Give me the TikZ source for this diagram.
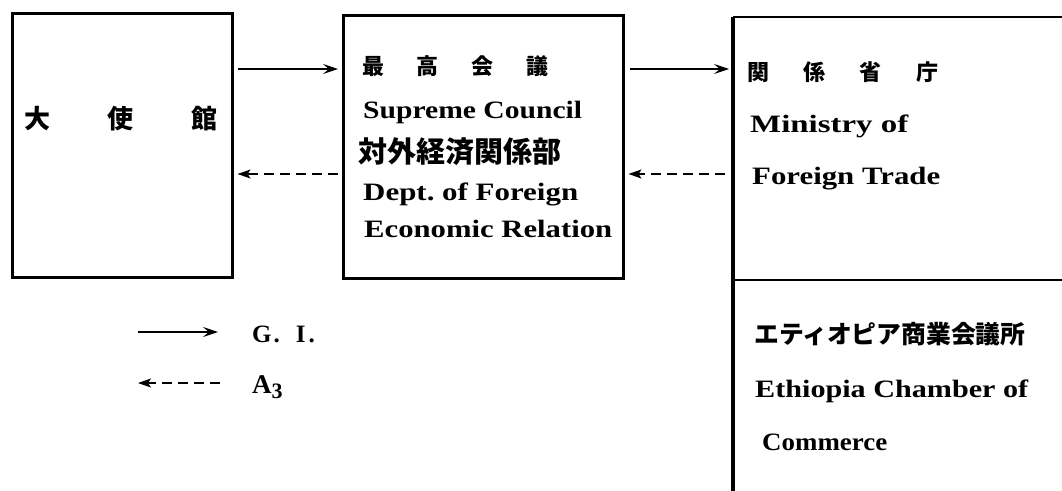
\documentclass[tikz,border=0pt]{standalone}
\usepackage{fontspec}
\usepackage{graphicx}
\setmainfont{Liberation Serif}
\newfontfamily\cjk{Noto Sans CJK JP}
\usetikzlibrary{arrows.meta}
\newcommand\fitw[2]{\resizebox{#1}{\height}{#2}}
\begin{document}
\begin{tikzpicture}[x=1pt,y=-1pt,
  box/.style={draw, line width=3pt, inner sep=0pt},
  en/.style={inner sep=0pt, anchor=base west, font=\bfseries\fontsize{25}{25}\selectfont},
  jp/.style={inner sep=0pt, anchor=west, font=\cjk\bfseries\fontsize{22}{22}\selectfont},
  fwd/.style={line width=1.5pt, -{Stealth[length=15pt,width=10pt,inset=6pt]}},
  bwd/.style={line width=1.5pt, dash pattern=on 10pt off 6pt, -{Stealth[length=13pt,width=9pt,inset=3pt]}},
]
\useasboundingbox (0,0) rectangle (1062,490);
\fill[white] (0,0) rectangle (1062,490);

% boxes
\node[box, minimum width=220pt, minimum height=264pt] (emb) at (122,145) {};
\node[box, minimum width=280pt, minimum height=263pt] (mid) at (483,146.5) {};
\coordinate (rtl) at (733,17);
\coordinate (rbl) at (733,492);
\coordinate (rtr) at (1064,17);
\coordinate (rdl) at (733,280);
\coordinate (rdr) at (1064,280);
\draw[line width=2pt] (rtl) -- (rtr);
\draw[line width=3.5pt] (rbl) -- (rtl);
\draw[line width=1.5pt] (rdl) -- (rdr);

% connectors
\coordinate (r1) at (0,69);
\coordinate (r2) at (0,174);
\draw[fwd, shorten <=4.5pt, shorten >=3.5pt] (emb.east |- r1) -- (mid.west |- r1);
\draw[fwd, shorten <=5pt, shorten >=4pt] (mid.east |- r1) -- (rtl |- r1);
\draw[bwd, shorten <=4pt, shorten >=4pt] (mid.west |- r2) -- (emb.east |- r2);
\draw[bwd, shorten <=8pt, shorten >=4pt] (rtl |- r2) -- (mid.east |- r2);

% left box text
\node[jp, font=\cjk\bfseries\fontsize{26}{26}\selectfont] (embt) at (24,119) {大\hspace{57.5pt}使\hspace{57.5pt}館};

% middle box text
\node[jp] (mt1) at (362,66) {最\hspace{32.7pt}高\hspace{32.7pt}会\hspace{32.7pt}議};
\node[en] (mt2) at (363,118) {\fitw{219pt}{Supreme Council}};
\node[jp, font=\cjk\bfseries\fontsize{29}{29}\selectfont] (mt3) at (358,152) {対外経済関係部};
\node[en] (mt4) at (363,200) {\fitw{215pt}{Dept.\ of Foreign}};
\node[en] (mt5) at (364,237) {\fitw{248pt}{Economic Relation}};

% right box text
\node[jp] (rt1) at (747,72) {関\hspace{34.3pt}係\hspace{34.3pt}省\hspace{34.3pt}庁};
\node[en] (rt2) at (750,132) {\fitw{158pt}{Ministry of}};
\node[en] (rt3) at (752,184) {\fitw{188pt}{Foreign Trade}};
\node[jp, font=\cjk\bfseries\fontsize{24.8}{24.8}\selectfont] (rt4) at (754,334) {エティオピア商業会議所};
\node[en] (rt5) at (755,397) {\fitw{273pt}{Ethiopia Chamber of}};
\node[en] (rt6) at (762,450) {\fitw{125pt}{Commerce}};

% legend
\coordinate (l1s) at (138,332);
\coordinate (l1e) at (218,332);
\coordinate (l2s) at (220,383);
\coordinate (l2e) at (138,383);
\draw[fwd] (l1s) -- (l1e);
\draw[bwd] (l2s) -- (l2e);
\node[en] (gi) at (252,342) {G\hspace{2pt}.\hspace{16pt}I\hspace{3pt}.};
\node[en, font=\bfseries\fontsize{27}{27}\selectfont] (a3) at (252,393) {A\raisebox{-5pt}{\fontsize{22}{22}\selectfont 3}};
\end{tikzpicture}
\end{document}
